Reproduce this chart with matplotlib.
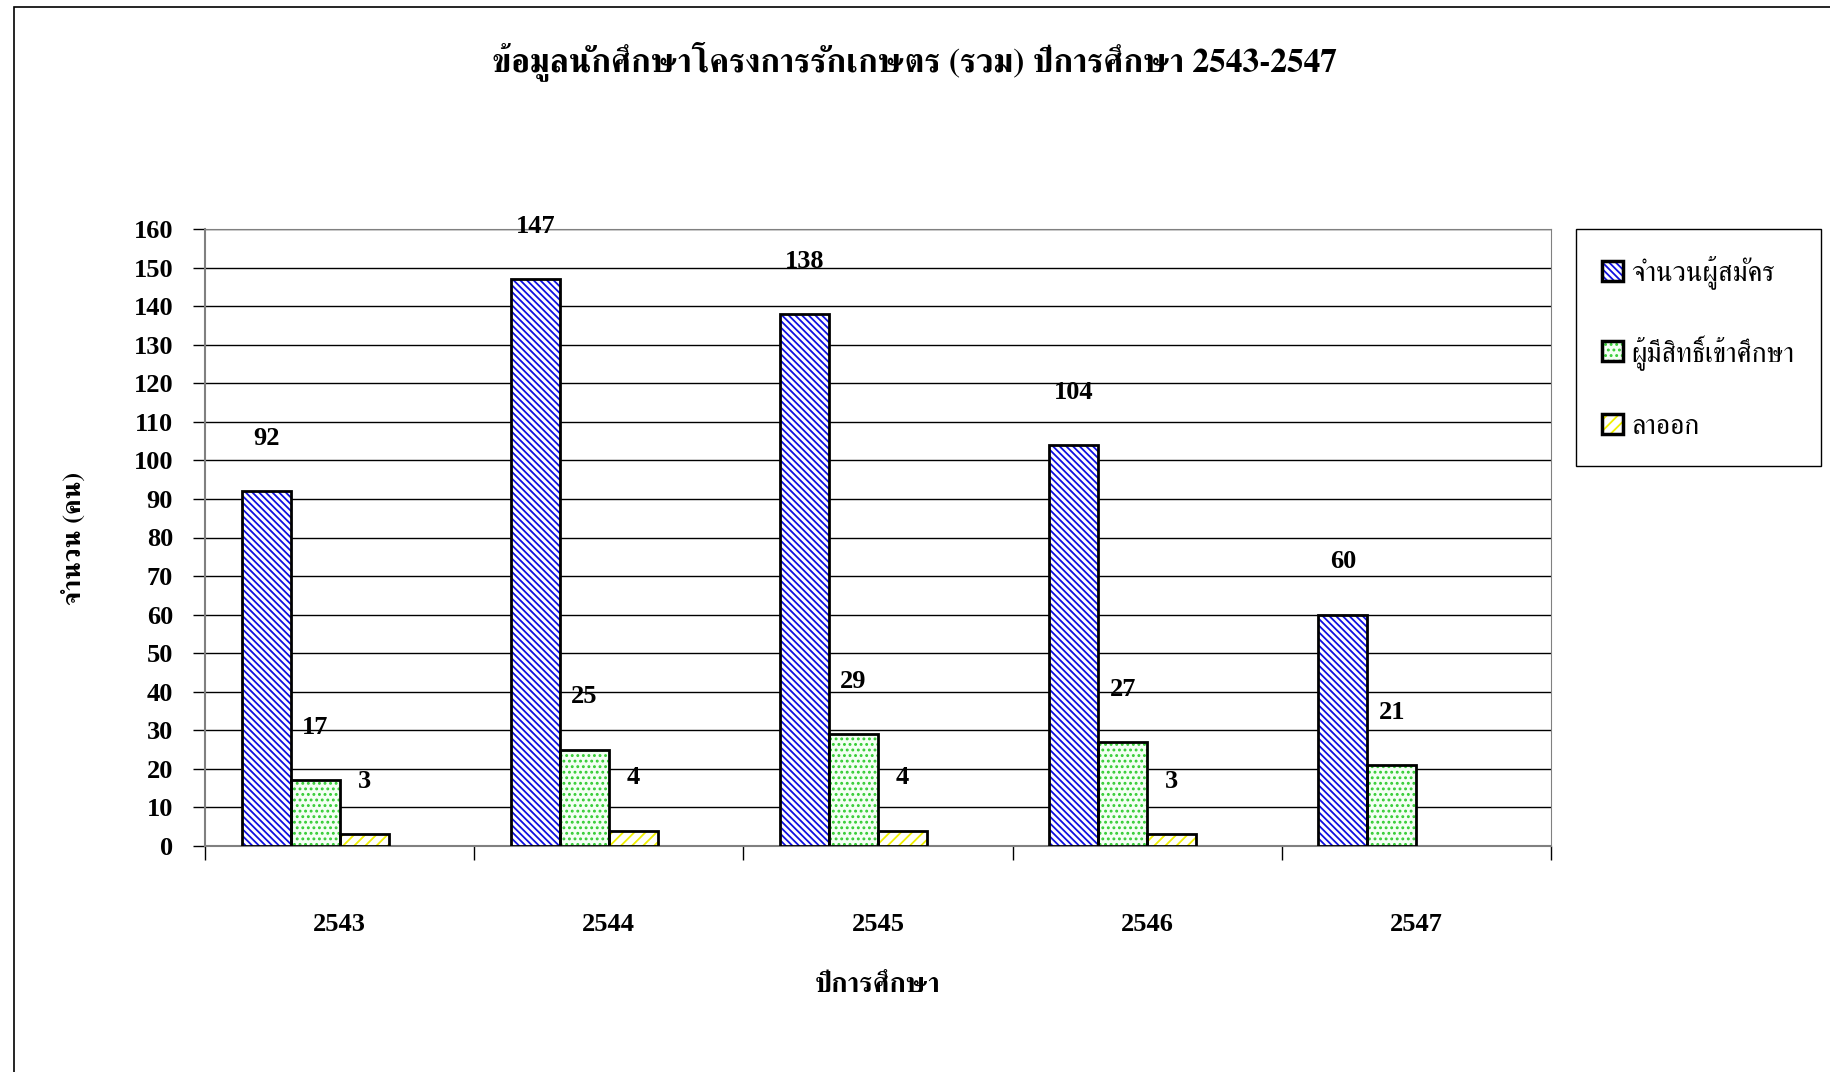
import matplotlib
matplotlib.use("Agg")
import matplotlib.pyplot as plt
from matplotlib.patches import Rectangle
from matplotlib.legend_handler import HandlerTuple
import numpy as np

years = ["2543", "2544", "2545", "2546", "2547"]
applicants = [92, 147, 138, 104, 60]
eligible = [17, 25, 29, 27, 21]
dropout = [3, 4, 4, 3, None]
series_names = ["จำนวนผู้สมัคร", "ผู้มีสิทธิ์เข้าศึกษา", "ลาออก"]
title = "ข้อมูลนักศึกษาโครงการรักเกษตร (รวม) ปีการศึกษา 2543-2547"
xlabel = "ปีการศึกษา"
ylabel = "จำนวน (คน)"

NUM = ["Liberation Serif", "FreeSerif"]
THAI = ["FreeSerif", "Liberation Serif"]

plt.rcParams["hatch.linewidth"] = 1.3

fig = plt.figure(figsize=(18.3, 10.72), dpi=100)
ax = fig.add_axes([205/1830, 1-846/1072, (1551-205)/1830, (846-229)/1072])

x = np.arange(len(years))
w = 0.182
styles = [
    dict(hatch="\\\\\\\\\\", color="#1010e0", face="white"),
    dict(hatch="...", color="#33cc33", face="#f4fff4"),
    dict(hatch="///", color="#f0f000", face="white"),
]
data = [applicants, eligible, dropout]
handles = []
for i, (vals, st) in enumerate(zip(data, styles)):
    xs = [xx + (i - 2) * w for xx, v in zip(x, vals) if v is not None]
    vs = [v for v in vals if v is not None]
    ax.bar(xs, vs, w, align="edge", facecolor=st["face"], edgecolor=st["color"],
           hatch=st["hatch"], linewidth=0, zorder=3)
    ax.bar(xs, vs, w, align="edge", fill=False, edgecolor="black", linewidth=2, zorder=4)
    for xx, v in zip(xs, vs):
        ax.annotate(str(v), (xx + w/2, v), xytext=(0, 38), textcoords="offset points",
                    ha="center", va="center", fontsize=19, fontweight="bold", family=NUM)
    ph = Rectangle((0, 0), 1, 1, facecolor=st["face"], edgecolor=st["color"], hatch=st["hatch"], linewidth=0)
    po = Rectangle((0, 0), 1, 1, fill=False, edgecolor="black", linewidth=2.5)
    handles.append((ph, po))

ax.set_xlim(-0.5, len(years) - 0.5)
ax.set_ylim(0, 160)
ax.set_yticks(np.arange(0, 161, 10))
ax.yaxis.grid(True, color="black", linewidth=1)
ax.set_axisbelow(True)
ax.set_xticks(x)
ax.set_xticklabels(years)
ax.set_xticks(np.arange(-0.5, len(years), 1), minor=True)
ax.tick_params(axis="x", which="major", length=0, pad=48)
ax.tick_params(axis="x", which="minor", length=10, width=1, direction="out")
ax.tick_params(axis="y", length=9, width=1, pad=14)
for lab in ax.get_xticklabels() + ax.get_yticklabels():
    lab.set_fontsize(19)
    lab.set_fontweight("bold")
    lab.set_family(NUM)
for s in ["top", "right"]:
    ax.spines[s].set_color("#808080")
ax.spines["left"].set_color("#808080")
ax.spines["left"].set_linewidth(1.5)
ax.spines["bottom"].set_color("#808080")
ax.spines["bottom"].set_linewidth(1.5)

fig.text(0.5, 1-61/1072, title, ha="center", va="center", fontsize=24,
         fontweight="bold", family=THAI)
fig.text((205+1551)/2/1830, 1-986/1072, xlabel, ha="center", va="center",
         fontsize=20, fontweight="bold", family=THAI)
fig.text(74/1830, 1-538/1072, ylabel, ha="center", va="center", rotation=90,
         fontsize=19, fontweight="bold", family=THAI)

leg = fig.legend(handles, series_names, handler_map={tuple: HandlerTuple(ndivide=1)},
                 loc="upper left", bbox_to_anchor=(1576/1830, 1-229/1072),
                 prop={"family": THAI, "size": 20}, frameon=True, fancybox=False,
                 edgecolor="black", framealpha=1, labelspacing=1.6, handlelength=0.75,
                 handleheight=0.75, handletextpad=0.3, borderpad=0.95, borderaxespad=0)
leg.get_frame().set_linewidth(1)

fig.patches.append(Rectangle((14/1830, -0.1), 1.2, 1.1 - 7/1072, transform=fig.transFigure,
                             fill=False, edgecolor="black", linewidth=1.2, figure=fig))

fig.savefig("out.png", dpi=100)
